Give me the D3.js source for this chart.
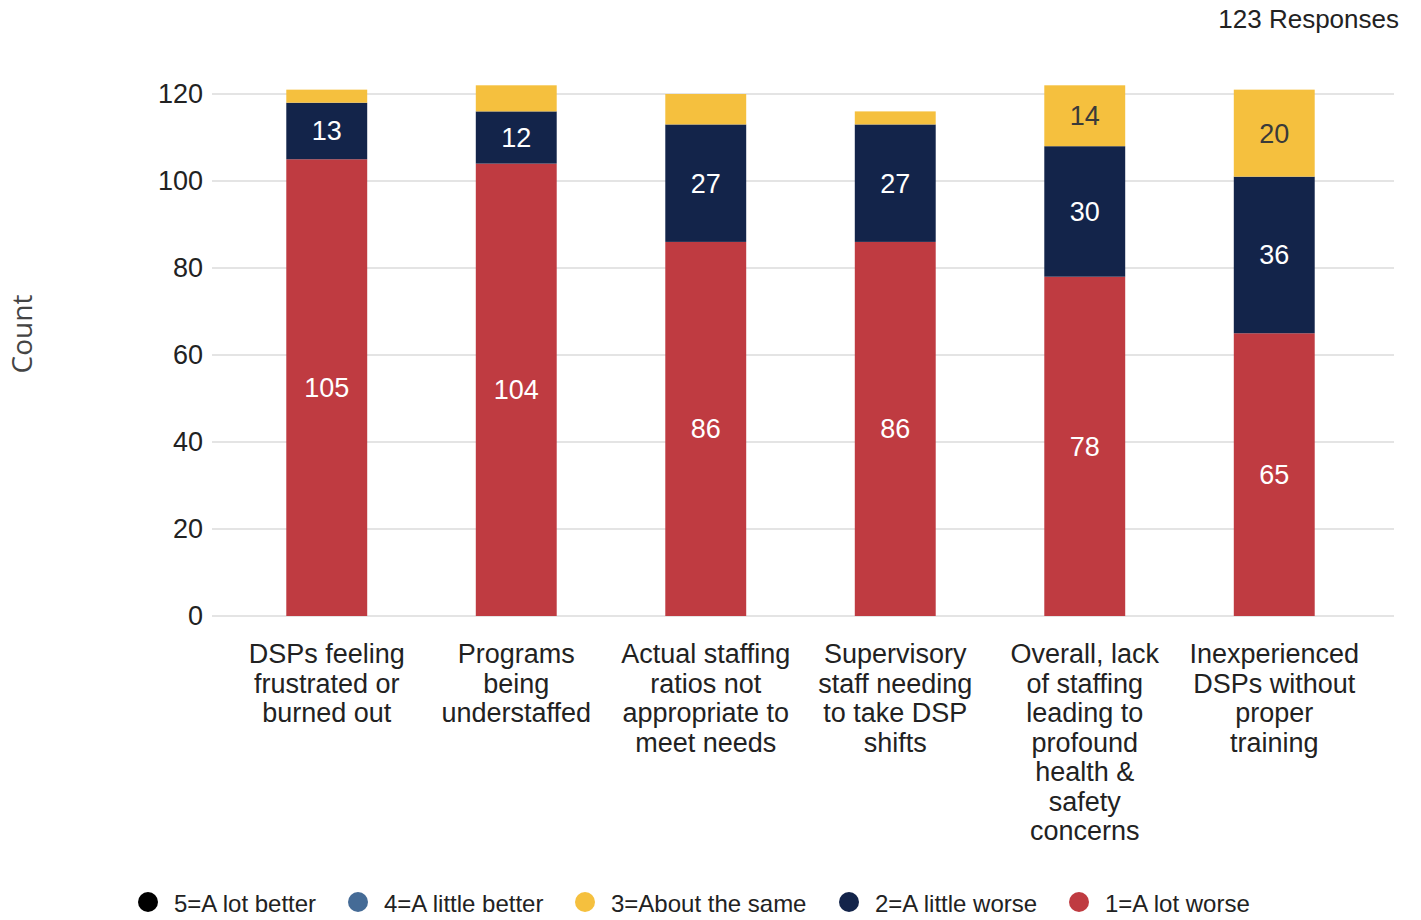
<!DOCTYPE html>
<html>
<head>
<meta charset="utf-8">
<script src="https://cdn.jsdelivr.net/npm/d3@7"></script>
<style>
  body { margin: 0; background: #fff; }
  svg { display: block; font-family: "Liberation Sans", Arial, sans-serif; }
</style>
</head>
<body>
<div class="chart"></div>
<script>
var categories = [
  ["DSPs feeling", "frustrated or", "burned out"],
  ["Programs", "being", "understaffed"],
  ["Actual staffing", "ratios not", "appropriate to", "meet needs"],
  ["Supervisory", "staff needing", "to take DSP", "shifts"],
  ["Overall, lack", "of staffing", "leading to", "profound", "health &", "safety", "concerns"],
  ["Inexperienced", "DSPs without", "proper", "training"]
];
var aLotWorse = [105, 104, 86, 86, 78, 65];
var aLittleWorse = [13, 12, 27, 27, 30, 36];
var aboutSame = [3, 6, 7, 3, 14, 20];
var yTicks = [0, 20, 40, 60, 80, 100, 120];
var legendLabels = ["5=A lot better", "4=A little better", "3=About the same", "2=A little worse", "1=A lot worse"];
var legendColors = ["#000000", "#456b96", "#f5c03e", "#13244a", "#bf3b41"];

var width = 1421, height = 920;
var svg = d3.select('.chart').append('svg')
  .attr('width', width)
  .attr('height', height);

var x = d3.scaleBand()
  .domain(d3.range(categories.length))
  .range([232, 1369])
  .paddingInner(0.573)
  .paddingOuter(0.2865);

var y = d3.scaleLinear().domain([0, 120]).range([616, 94]);

// gridlines
svg.append('g').selectAll('line').data(yTicks).enter().append('line')
  .attr('x1', 212).attr('x2', 1394)
  .attr('y1', function(d) { return y(d); })
  .attr('y2', function(d) { return y(d); })
  .attr('stroke', '#e4e4e4')
  .attr('stroke-width', 2);

// y axis labels
svg.append('g').selectAll('text').data(yTicks).enter().append('text')
  .attr('x', 203)
  .attr('y', function(d) { return y(d); })
  .attr('dy', '0.35em')
  .attr('text-anchor', 'end')
  .attr('font-size', 27)
  .attr('fill', '#222')
  .text(function(d) { return d; });

svg.append('text')
  .attr('transform', 'translate(32,334) rotate(-90)')
  .attr('text-anchor', 'middle')
  .attr('font-family', '"Open Sans", sans-serif')
  .attr('font-size', 28)
  .attr('fill', '#444')
  .text('Count');

svg.append('text')
  .attr('x', 1399).attr('y', 28)
  .attr('text-anchor', 'end')
  .attr('font-size', 26)
  .attr('fill', '#222')
  .text('123 Responses');

// stack series, bottom to top
var series = [
  { values: aLotWorse, color: '#bf3b41', text: '#ffffff' },
  { values: aLittleWorse, color: '#13244a', text: '#ffffff' },
  { values: aboutSame, color: '#f5c03e', text: '#3a3a3a' }
];

var base = categories.map(function() { return 0; });
series.forEach(function(s) {
  var segs = s.values.map(function(v, i) {
    var seg = { i: i, y0: base[i], y1: base[i] + v, v: v };
    base[i] += v;
    return seg;
  });
  var g = svg.append('g');
  g.selectAll('rect').data(segs).enter().append('rect')
    .attr('x', function(d) { return x(d.i); })
    .attr('width', x.bandwidth())
    .attr('y', function(d) { return y(d.y1); })
    .attr('height', function(d) { return y(d.y0) - y(d.y1); })
    .attr('fill', s.color);
  g.selectAll('text').data(segs.filter(function(d) { return d.v >= 10; })).enter().append('text')
    .attr('x', function(d) { return x(d.i) + x.bandwidth() / 2; })
    .attr('y', function(d) { return y((d.y0 + d.y1) / 2); })
    .attr('dy', '0.35em')
    .attr('text-anchor', 'middle')
    .attr('font-size', 27)
    .attr('fill', s.text)
    .text(function(d) { return d.v; });
});

// category labels
var catG = svg.append('g').selectAll('text').data(categories).enter().append('text')
  .attr('text-anchor', 'middle')
  .attr('font-size', 27)
  .attr('fill', '#222');
catG.selectAll('tspan').data(function(d, i) { return d.map(function(t) { return { t: t, i: i }; }); })
  .enter().append('tspan')
  .attr('x', function(d) { return x(d.i) + x.bandwidth() / 2; })
  .attr('y', function(d, j) { return 663 + j * 29.5; })
  .text(function(d) { return d.t; });

// legend
var legendX = [148, 358, 585, 849, 1079];
var leg = svg.append('g').selectAll('g').data(legendLabels).enter().append('g')
  .attr('transform', function(d, i) { return 'translate(' + legendX[i] + ',902)'; });
leg.append('circle')
  .attr('r', 10)
  .attr('fill', function(d, i) { return legendColors[i]; });
leg.append('text')
  .attr('x', 26)
  .attr('y', 2)
  .attr('dy', '0.35em')
  .attr('font-size', 24)
  .attr('fill', '#222')
  .text(function(d) { return d; });
</script>
</body>
</html>
